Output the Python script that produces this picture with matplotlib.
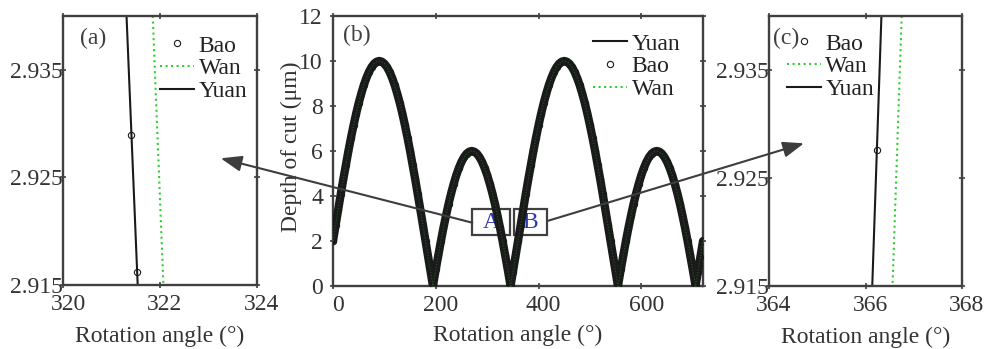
import matplotlib
matplotlib.use('Agg')
import matplotlib.pyplot as plt
from matplotlib.patches import FancyArrowPatch, Rectangle
from matplotlib.lines import Line2D
from matplotlib.transforms import ScaledTranslation

# ---------------- data ----------------
# panel (b): depth of cut vs rotation angle
theta_b = [0, 5, 10, 15, 20, 25, 30, 35, 40, 45, 50, 55, 60, 65, 70, 75, 80, 85, 90,
           95, 100, 105, 110, 115, 120, 125, 130, 135, 140, 145, 150, 155, 160, 165, 170,
           175, 180, 185, 190, 194.5, 195, 200, 205, 210, 215, 220, 225, 230, 235, 240,
           245, 250, 255, 260, 265, 270, 275, 280, 285, 290, 295, 300, 305, 310, 315,
           320, 325, 330, 335, 340, 345, 345.5, 350, 355,
           360, 365, 370, 375, 380, 385, 390, 395, 400, 405, 410, 415, 420, 425, 430,
           435, 440, 445, 450, 455, 460, 465, 470, 475, 480, 485, 490, 495, 500, 505,
           510, 515, 520, 525, 530, 535, 540, 545, 550, 554.5, 555, 560, 565, 570, 575,
           580, 585, 590, 595, 600, 605, 610, 615, 620, 625, 630, 635, 640, 645, 650,
           655, 660, 665, 670, 675, 680, 685, 690, 695, 700, 705, 705.5, 710, 715, 720]
depth_b = [2.00, 2.70, 3.39, 4.07, 4.74, 5.38, 6.00, 6.59, 7.14, 7.66, 8.13, 8.55, 8.93,
           9.25, 9.52, 9.73, 9.88, 9.97, 10.00, 9.97, 9.88, 9.73, 9.52, 9.25, 8.93, 8.55,
           8.13, 7.66, 7.14, 6.59, 6.00, 5.38, 4.74, 4.07, 3.39, 2.70, 2.00, 1.30, 0.61,
           0.00, 0.07, 0.74, 1.38, 2.00, 2.59, 3.14, 3.66, 4.13, 4.55, 4.93, 5.25, 5.52,
           5.73, 5.88, 5.97, 6.00, 5.97, 5.88, 5.73, 5.52, 5.25, 4.93, 4.55, 4.13, 3.66,
           3.14, 2.59, 2.00, 1.38, 0.74, 0.07, 0.00, 0.61, 1.30,
           2.00, 2.70, 3.39, 4.07, 4.74, 5.38, 6.00, 6.59, 7.14, 7.66, 8.13, 8.55, 8.93,
           9.25, 9.52, 9.73, 9.88, 9.97, 10.00, 9.97, 9.88, 9.73, 9.52, 9.25, 8.93, 8.55,
           8.13, 7.66, 7.14, 6.59, 6.00, 5.38, 4.74, 4.07, 3.39, 2.70, 2.00, 1.30, 0.61,
           0.00, 0.07, 0.74, 1.38, 2.00, 2.59, 3.14, 3.66, 4.13, 4.55, 4.93, 5.25, 5.52,
           5.73, 5.88, 5.97, 6.00, 5.97, 5.88, 5.73, 5.52, 5.25, 4.93, 4.55, 4.13, 3.66,
           3.14, 2.59, 2.00, 1.38, 0.74, 0.07, 0.00, 0.61, 1.30, 2.00]

# panel (a): zoom near region A
yuan_a_x = [321.31, 321.54]
yuan_a_y = [2.940, 2.915]
wan_a_x = [321.85, 322.07]
wan_a_y = [2.940, 2.915]
bao_a_x = [321.41, 321.53]
bao_a_y = [2.9289, 2.9162]

# panel (c): zoom near region B
yuan_c_x = [366.33, 366.14]
yuan_c_y = [2.940, 2.915]
wan_c_x = [366.75, 366.56]
wan_c_y = [2.940, 2.915]
bao_c_x = [366.24]
bao_c_y = [2.9276]

xticks_a = [320, 322, 324]
xticks_b = [0, 200, 400, 600]
xticks_c = [364, 366, 368]
yticks_zoom = [2.915, 2.925, 2.935]
yticks_b = [0, 2, 4, 6, 8, 10, 12]

# ---------------- style ----------------
plt.rcParams['font.family'] = ['Liberation Serif', 'DejaVu Serif']
plt.rcParams['font.size'] = 17

GRAY = '#404040'
TEXT = '#333333'
BLACK = '#1a1a1a'
GREEN = '#33cc33'
W, H = 1000, 349

fig = plt.figure(figsize=(10, 3.49), dpi=100)


def px_axes(l, t, r, b):
    return fig.add_axes([l / W, 1 - b / H, (r - l) / W, (b - t) / H])


def fx(x):
    return x / W


def fy(y):
    return 1 - y / H


ax_a = px_axes(63, 16, 257, 285)
ax_b = px_axes(333, 16, 703, 286)
ax_c = px_axes(769, 16, 962, 286)


def style(ax, ypad):
    for s in ax.spines.values():
        s.set_color(GRAY)
        s.set_linewidth(1.7)
    ax.tick_params(direction='inout', length=4, width=1.2, color=GRAY,
                   labelcolor=TEXT, top=True, right=True, labelsize=17)
    ax.tick_params(axis='y', pad=ypad)
    ax.tick_params(axis='x', pad=4.5)
    off = ScaledTranslation(5 / 100, 0, fig.dpi_scale_trans)
    for lab in ax.get_xticklabels():
        lab.set_transform(lab.get_transform() + off)


def proxies():
    return {
        'Yuan': Line2D([], [], color=BLACK, lw=1.5),
        'Bao': Line2D([], [], ls='none', marker='o', mfc='none', mec=BLACK, ms=4.5, mew=0.8),
        'Wan': Line2D([], [], color=GREEN, lw=1.5, ls=':'),
    }


def legend(ax, order, left, top):
    p = proxies()
    ax.legend([p[k] for k in order], order, loc='upper left',
              bbox_to_anchor=(fx(left), fy(top)), bbox_transform=fig.transFigure,
              frameon=False, borderpad=0, borderaxespad=0, handlelength=1.45,
              handletextpad=0.18, labelspacing=0.05, fontsize=17,
              labelcolor='#222222')


# ---- panel (a)
ax_a.plot(yuan_a_x, yuan_a_y, color=BLACK, lw=1.5)
ax_a.plot(wan_a_x, wan_a_y, color=GREEN, lw=1.5, ls=':')
ax_a.plot(bao_a_x, bao_a_y, ls='none', marker='o', mfc='none', mec=BLACK, ms=4.5, mew=0.8)
ax_a.set_xlim(320, 324)
ax_a.set_ylim(2.915, 2.940)
ax_a.set_xticks(xticks_a)
ax_a.set_yticks(yticks_zoom)
ax_a.set_yticklabels([f'{v:.3f}' for v in yticks_zoom])
style(ax_a, -2)
legend(ax_a, ['Bao', 'Wan', 'Yuan'], 160, 35)
ax_a.set_xlabel('Rotation angle (°)', color=TEXT)
ax_a.xaxis.set_label_coords(0.5, -0.152)
fig.text(fx(80), fy(38), '(a)', color=GRAY, fontsize=17, va='center', ha='left')

# ---- panel (b)
ax_b.plot(theta_b, depth_b, color=BLACK, lw=6, solid_joinstyle='round',
          solid_capstyle='round', zorder=3)
ax_b.plot(theta_b, depth_b, ls='none', marker='o', mfc='none', mec=BLACK, ms=4.5,
          mew=0.8, zorder=3)
ax_b.plot(theta_b, depth_b, color=GREEN, lw=0.8, ls=':', alpha=0.35, zorder=4)
ax_b.set_xlim(0, 720)
ax_b.set_ylim(0, 12)
ax_b.set_xticks(xticks_b)
ax_b.set_yticks(yticks_b)
style(ax_b, 5.2)
legend(ax_b, ['Yuan', 'Bao', 'Wan'], 593, 33)
ax_b.set_xlabel('Rotation angle (°)', color=TEXT)
ax_b.xaxis.set_label_coords(0.5, -0.145)
ax_b.set_ylabel('Depth of cut (μm)', color=TEXT)
ax_b.yaxis.set_label_coords(-0.084, 0.515)
fig.text(fx(343), fy(35), '(b)', color=GRAY, fontsize=17, va='center', ha='left')

# boxes A and B
for (l, r, lab) in [(472.3, 510, 'A'), (514, 547.3, 'B')]:
    rect = Rectangle((fx(l), fy(235)), fx(r - l), 25.7 / H, transform=fig.transFigure,
                     facecolor='white', edgecolor=GRAY, lw=1.6, zorder=2, clip_on=False)
    ax_b.add_patch(rect)
    ax_b.text(fx((l + r) / 2), fy(222), lab, transform=fig.transFigure, ha='center',
              va='center', color='#2a3aaa', fontsize=17, zorder=2.5, clip_on=False)

# ---- panel (c)
ax_c.plot(yuan_c_x, yuan_c_y, color=BLACK, lw=1.5)
ax_c.plot(wan_c_x, wan_c_y, color=GREEN, lw=1.5, ls=':')
ax_c.plot(bao_c_x, bao_c_y, ls='none', marker='o', mfc='none', mec=BLACK, ms=4.5, mew=0.8)
ax_c.set_xlim(364, 368)
ax_c.set_ylim(2.915, 2.940)
ax_c.set_xticks(xticks_c)
ax_c.set_yticks(yticks_zoom)
ax_c.set_yticklabels([f'{v:.3f}' for v in yticks_zoom])
style(ax_c, -2)
legend(ax_c, ['Bao', 'Wan', 'Yuan'], 786.7, 33)
ax_c.set_xlabel('Rotation angle (°)', color=TEXT)
ax_c.xaxis.set_label_coords(0.5, -0.152)
fig.text(fx(773), fy(38), '(c)', color=GRAY, fontsize=17, va='center', ha='left')

# ---- arrows
for (p0, p1) in [((472.3, 222.7), (220.7, 158.3)), ((547.3, 221), (804, 143.3))]:
    arr = FancyArrowPatch((fx(p0[0]), fy(p0[1])), (fx(p1[0]), fy(p1[1])),
                          transform=fig.transFigure, arrowstyle='-|>,head_length=0.8,head_width=0.3',
                          mutation_scale=16, color='#3d3d3d', lw=1.5,
                          shrinkA=0, shrinkB=0, zorder=10)
    fig.add_artist(arr)

fig.savefig('out.png', dpi=100)
